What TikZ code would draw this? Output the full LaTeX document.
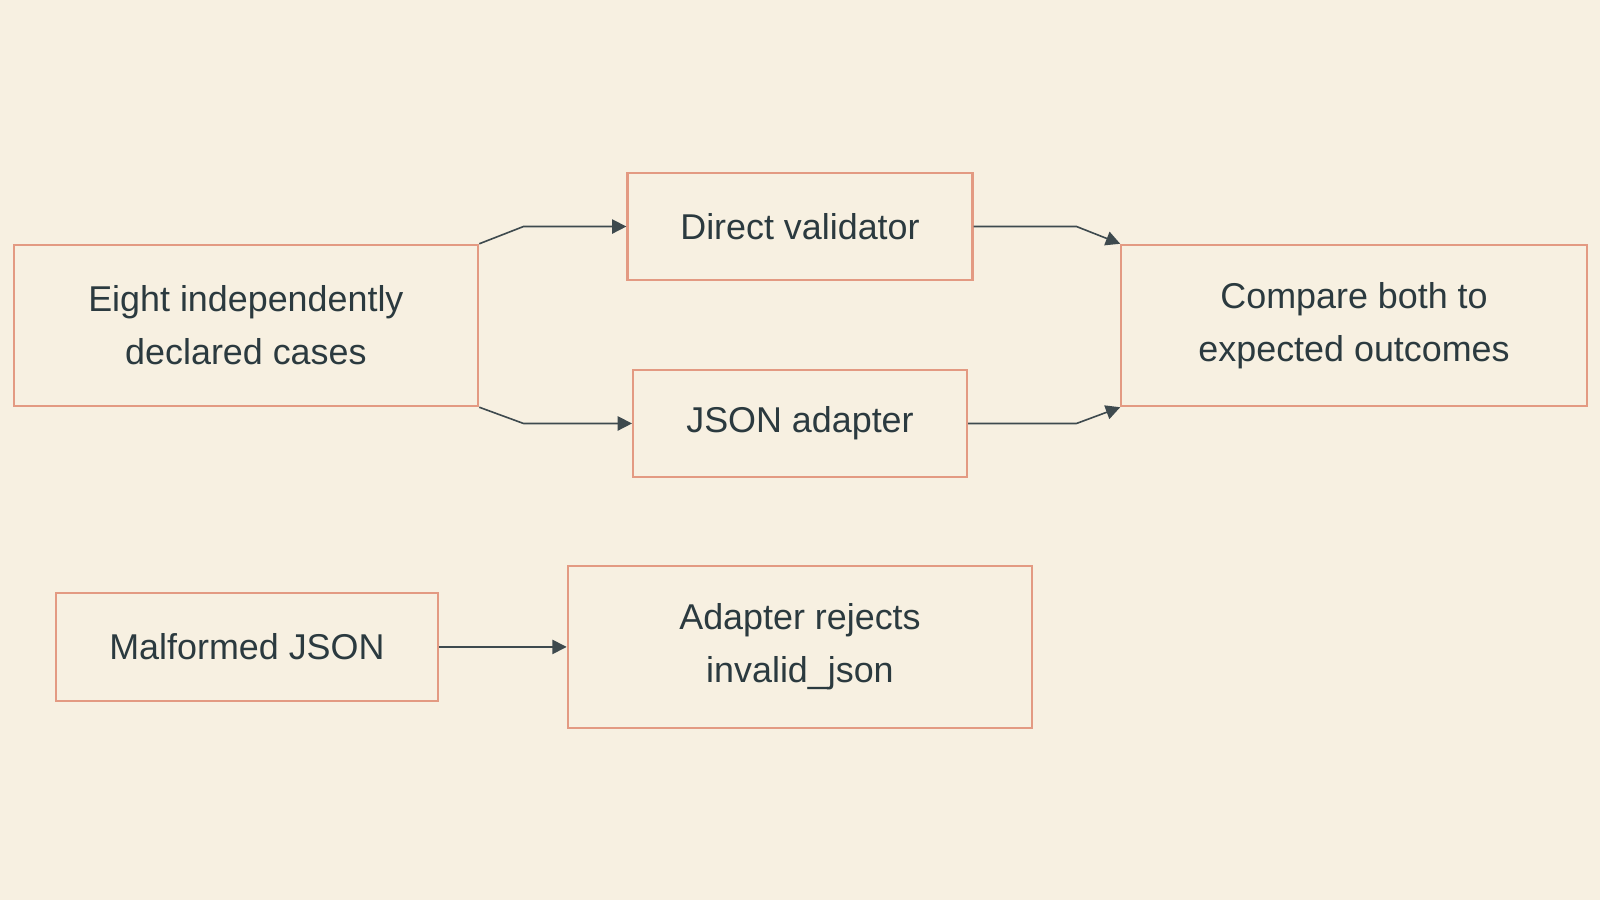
\documentclass[tikz,border=0pt]{standalone}
\usepackage{fontspec}
\setmainfont{Liberation Sans}
\usetikzlibrary{arrows.meta}
\definecolor{bgcol}{HTML}{F7F0E1}
\definecolor{boxline}{HTML}{E39A82}
\definecolor{txtcol}{HTML}{2B3A3F}
\definecolor{arrcol}{HTML}{3E4A4E}
\tikzset{
	stepbox/.style={draw=boxline,line width=0.6pt,fill=bgcol,text=txtcol,align=center,
		inner sep=0pt,font=\fontsize{10}{14.8}\selectfont},
	flow/.style={draw=arrcol,line width=0.45pt,-{Triangle[length=4pt,width=4pt]}}
}
\begin{document}
	\begin{tikzpicture}[x=0.01cm,y=-0.01cm]
		\fill[bgcol] (0,0) rectangle (1568,882);
		\useasboundingbox (0,0) rectangle (1568,882);
		\node[stepbox,minimum width=4.55cm,minimum height=1.58cm] (cases) at (241,319) {Eight independently\\declared cases};
		\node[stepbox,minimum width=3.38cm,minimum height=1.05cm] (direct) at (784,222) {Direct validator};
		\node[stepbox,minimum width=3.27cm,minimum height=1.05cm] (adapter) at (784,415) {JSON adapter};
		\node[stepbox,minimum width=4.56cm,minimum height=1.58cm] (compare) at (1327,319) {Compare both to\\expected outcomes};
		\node[stepbox,minimum width=3.74cm,minimum height=1.06cm] (malformed) at (242,634) {Malformed JSON};
		\node[stepbox,minimum width=4.55cm,minimum height=1.58cm] (rejects) at (784,634) {Adapter rejects\\invalid\_json};
		\draw[flow] (cases.north east) -- (513,222) -- (direct.west);
		\draw[flow] (cases.south east) -- (513,415) -- (adapter.west);
		\draw[flow] (direct.east) -- (1055,222) -- (compare.north west);
		\draw[flow] (adapter.east) -- (1055,415) -- (compare.south west);
		\draw[flow] (malformed) -- (rejects);
	\end{tikzpicture}
\end{document}
